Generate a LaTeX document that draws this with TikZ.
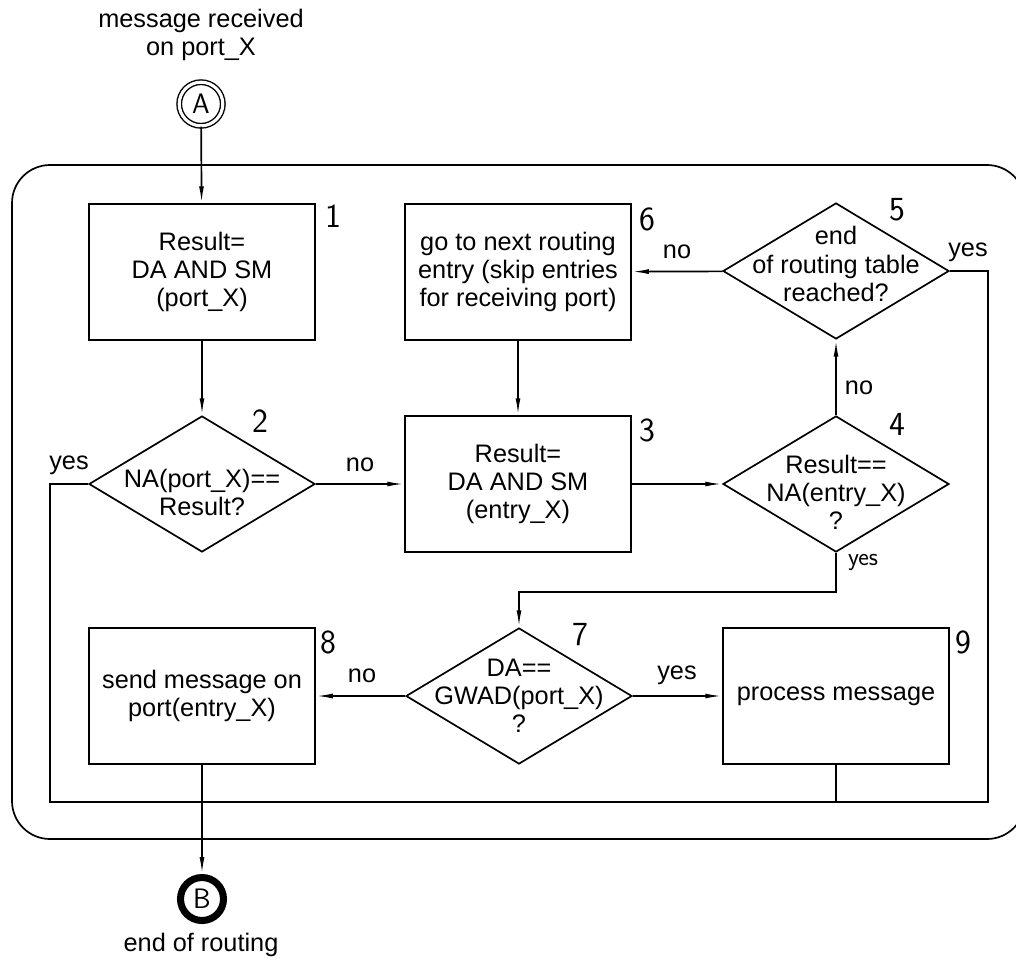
\documentclass[tikz,border=0pt]{standalone}
\usepackage{fontspec}
\setmainfont{Liberation Sans}
\usetikzlibrary{shapes.geometric,arrows.meta}

\newcommand\numfont{\sffamily\fontsize{24}{24}\selectfont}

\tikzset{
  txt/.style={font=\fontsize{18}{20}\selectfont, align=center},
  box/.style={draw, txt, minimum width=5.65cm, minimum height=3.4cm},
  dec/.style={draw, diamond, minimum width=5.65cm, minimum height=3.4cm, inner sep=0pt},
  num/.style={font=\numfont},
  flow/.style={-{Latex[length=12pt,width=3.5pt]}},
}

\begin{document}
\begin{tikzpicture}[x=0.025cm, y=-0.025cm, line width=1.2pt]
\useasboundingbox (0,0) rectangle (1016,960);

% frame
\draw[rounded corners=0.95cm] (12,165) rectangle (1025,839);

% in and out
\node[txt] (in) at (201,35) {message received\\on port\_X};
\node[circle, draw, line width=1pt, double, double distance=2.2pt, minimum size=1.09cm, inner sep=0pt, font=\sffamily\fontsize{20}{20}\selectfont] (A) at (201,104) {A};
\node[circle, draw, line width=5pt, minimum size=1.075cm, inner sep=0pt, font=\sffamily\fontsize{20}{20}\selectfont] (B) at (202,899) {B};
\node[txt] (out) at (201,945) {end of routing};

% steps
\node[box] (b1) at (202,272) {Result=\\DA AND SM\\(port\_X)};
\node[box] (b6) at (518,272) {go to next routing\\entry (skip entries\\for receiving port)};
\node[dec, label={[txt,yshift=5pt]center:end\\of routing table\\reached?}] (d5) at (836,271) {};
\node[dec, label={[txt,yshift=-6pt]center:NA(port\_X)==\\Result?}] (d2) at (202,484) {};
\node[box] (b3) at (518,484) {Result=\\DA AND SM\\(entry\_X)};
\node[dec, label={[txt,yshift=-6pt]center:Result==\\NA(entry\_X)\\?}] (d4) at (836,484) {};
\node[box] (b8) at (202,696) {send message on\\port(entry\_X)};
\node[dec, label={[txt]center:DA==\\GWAD(port\_X)\\?}] (d7) at (519,696) {};
\node[box] (b9) at (836,696) {process message};

% numbers
\node[num] (n1) at (333,216) {1};
\node[num] (n6) at (647,219) {6};
\node[num] (n5) at (897,210) {5};
\node[num] (n2) at (260,421) {2};
\node[num] (n3) at (647,430) {3};
\node[num] (n4) at (897,424) {4};
\node[num] (n8) at (328,642) {8};
\node[num] (n7) at (580,635) {7};
\node[num] (n9) at (963,642) {9};

% flow
\draw[flow] (A) -- (b1);
\draw[flow] (b1) -- (d2);
\draw[flow] (d2) -- (b3);
\draw[flow] (b6) -- (b3);
\draw[flow] (b3) -- (d4);
\draw[flow] (d4) -- (d5);
\draw[flow] (d5) -- (b6);
\draw[flow] (d4.south) -- ++(0,39) -| (d7.north);
\draw[flow] (d7) -- (b9);
\draw[flow] (d7) -- (b8);
\draw[flow] (b8) -- (B);

% return lines
\coordinate (jl) at (50,802);
\coordinate (jr) at (988,802);
\draw (d2.west) -| (jl) -- (jr) |- (d5.east);
\draw (b9.south) -- (b9.south |- jl);

% answers
\node[txt] (y2) at (69,465) {yes};
\node[txt] (o2) at (360,465) {no};
\node[txt] (o5) at (677,252) {no};
\node[txt] (y5) at (968,252) {yes};
\node[txt] (o4) at (859,388) {no};
\node[font=\sffamily\fontsize{18}{18}\selectfont] (y4) at (863,562) {yes};
\node[txt] (o7) at (362,676) {no};
\node[txt] (y7) at (677,675) {yes};
\end{tikzpicture}
\end{document}
